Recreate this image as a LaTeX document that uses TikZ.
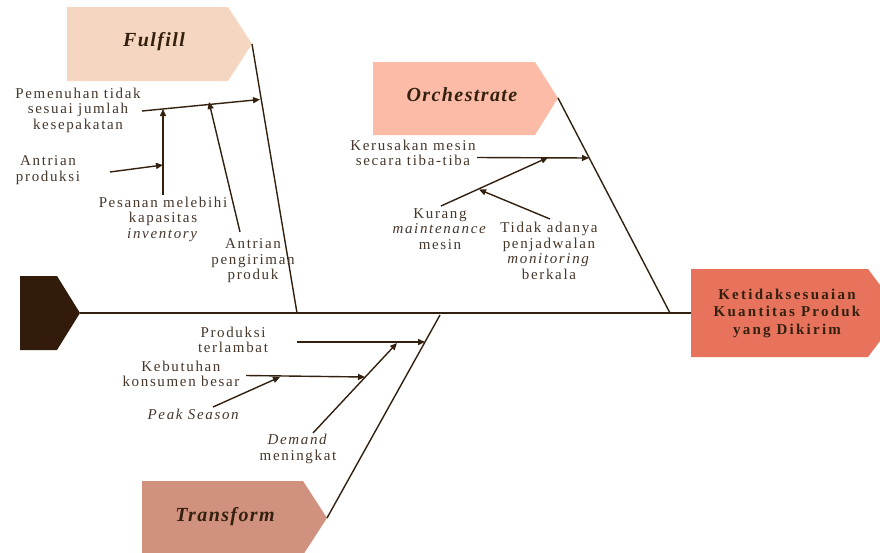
\documentclass[tikz,border=0pt]{standalone}
\usepackage{fontspec}
\setmainfont{Liberation Serif}
\newfontfamily\lblfont{Liberation Serif}[LetterSpace=11]
\newfontfamily\ttlfont{Liberation Serif}[LetterSpace=7]
\newfontfamily\hdfont{Liberation Serif}[LetterSpace=15]
\usetikzlibrary{arrows.meta}

\definecolor{fulfillC}{HTML}{F5D6C0}
\definecolor{orchC}{HTML}{FBBBA6}
\definecolor{transC}{HTML}{D1917F}
\definecolor{headC}{HTML}{E8735D}
\definecolor{tailC}{HTML}{331B0B}
\definecolor{boneC}{HTML}{33200F}
\definecolor{txtC}{HTML}{46362A}
\definecolor{ttlC}{HTML}{33200F}

\tikzset{
  bone/.style={draw=boneC, line width=1.4pt},
  cause/.style={draw=boneC, line width=1.4pt, -{Triangle[length=7pt,width=6pt]}},
  lbl/.style={font=\lblfont\fontsize{15}{15.5}\selectfont, text=txtC, align=center, inner sep=0pt},
  ttl/.style={font=\ttlfont\fontsize{20}{22}\selectfont\bfseries\itshape, text=ttlC, inner sep=0pt},
  headtxt/.style={font=\hdfont\fontsize{15}{17.5}\selectfont\bfseries, text=ttlC, align=center, inner sep=0pt},
}

\begin{document}
\begin{tikzpicture}[x=1pt,y=-1pt]
\useasboundingbox (0,0) rectangle (880,552);
\clip (0,0) rectangle (880,552);

% category boxes (arrow-shaped)
\fill[fulfillC] (67,7) -- (228,7) -- (252,44) coordinate (fulTip) -- (228,81) -- (67,81) -- cycle;
\fill[orchC] (373,62) -- (535,62) -- (558,98) coordinate (orcTip) -- (535,135) -- (373,135) -- cycle;
\fill[transC] (142,481) -- (303,481) -- (327,518) coordinate (traTip) -- (303,555) -- (142,555) -- cycle;
\fill[headC] (691,269) -- (868,269) -- (901,313) -- (868,357) -- (691,357) -- cycle;
\fill[tailC] (20,276) -- (57,276) -- (80,313) coordinate (tailTip) -- (57,350) -- (20,350) -- cycle;

\node[ttl] (fulfill) at (154,42) {Fulfill};
\node[ttl] (orchestrate) at (462,95) {Orchestrate};
\node[ttl] (transform) at (225,517) {Transform};
\node[headtxt] (head) at (787,313) {Ketidaksesuaian\\Kuantitas Produk\\yang Dikirim};

% spine
\coordinate (headL) at (691,313);
\draw[bone] (tailTip) -- (headL);

% main bones
\coordinate (fulEnd) at (297,313);
\coordinate (orcEnd) at (670,313);
\coordinate (traEnd) at (440,315);
\draw[bone] (fulTip) -- (fulEnd);
\draw[bone] (orcTip) -- (orcEnd);
\draw[bone] (traTip) -- (traEnd);

% ---- Fulfill causes
\node[lbl] (pemenuhan) at (78,110) {Pemenuhan tidak\\sesuai jumlah\\kesepakatan};
\node[lbl] (antrianProd) at (48,170) {Antrian\\produksi};
\node[lbl] (pesanan) at (163,219) {Pesanan melebihi\\kapasitas\\\textit{inventory}};
\node[lbl] (antrianKirim) at (253,261) {Antrian\\pengiriman\\produk};

\coordinate (pA) at (142,111);
\coordinate (pB) at (260,99.5);
\coordinate (pesTop) at (163,109);
\coordinate (pesBot) at (163,195);
\coordinate (apA) at (110,172);
\coordinate (kirA) at (240,232);
\coordinate (kirB) at (209,102);
\draw[cause] (pA) -- (pB);
\draw[cause] (pesBot) -- (pesTop);
\draw[cause] (apA) -- (163,165);
\draw[cause] (kirA) -- (kirB);

% ---- Orchestrate causes
\node[lbl] (kerusakan) at (413,153) {Kerusakan mesin\\secara tiba-tiba};
\node[lbl] (kurang) at (440,229) {Kurang\\\textit{maintenance}\\mesin};
\node[lbl] (tidak) at (549,251) {Tidak adanya\\penjadwalan\\\textit{monitoring}\\berkala};

\coordinate (kA) at (477,157.5);
\coordinate (kB) at (589,158);
\coordinate (kuA) at (441,206);
\coordinate (kuB) at (548,157.5);
\coordinate (tA) at (550,219);
\coordinate (tB) at (479,189.5);
\draw[cause] (kA) -- (kB);
\draw[cause] (kuA) -- (kuB);
\draw[cause] (tA) -- (tB);

% ---- Transform causes
\node[lbl] (produksi) at (233,340) {Produksi\\terlambat};
\node[lbl] (kebutuhan) at (181,374) {Kebutuhan\\konsumen besar};
\node[lbl] (peak) at (194,414) {\textit{Peak Season}};
\node[lbl] (demand) at (298,449) {\textit{Demand}\\meningkat};

\coordinate (prA) at (297,342);
\coordinate (prB) at (425,342);
\coordinate (dA) at (313,433);
\coordinate (dB) at (397,343);
\coordinate (kbA) at (246,375.5);
\coordinate (kbB) at (365,377);
\coordinate (psA) at (213,407);
\coordinate (psB) at (280,377);
\draw[cause] (prA) -- (prB);
\draw[cause] (dA) -- (dB);
\draw[cause] (kbA) -- (kbB);
\draw[cause] (psA) -- (psB);
\end{tikzpicture}
\end{document}
